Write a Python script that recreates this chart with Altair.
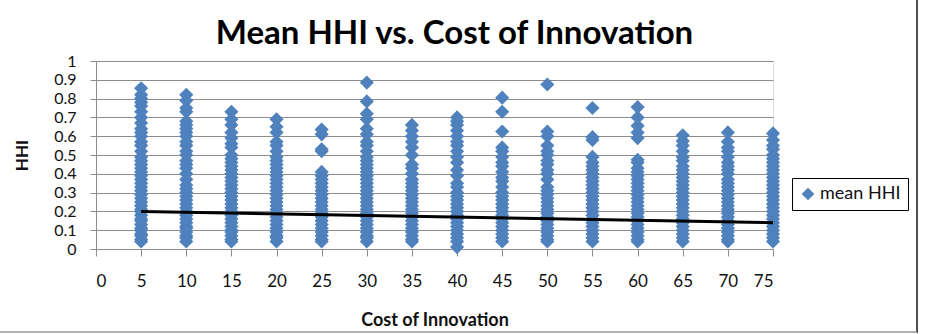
import altair as alt
import pandas as pd

# Cost of innovation levels (x) and the mean HHI results observed at each level
cost_levels = [5, 10, 15, 20, 25, 30, 35, 40, 45, 50, 55, 60, 65, 70, 75]

hhi_5 = [0.04, 0.05, 0.07, 0.08, 0.10, 0.11, 0.13, 0.15, 0.16, 0.18, 0.20, 0.21, 0.23, 0.25,
         0.27, 0.29, 0.31, 0.33, 0.35, 0.37, 0.39, 0.41, 0.43, 0.45, 0.47, 0.49, 0.52, 0.55,
         0.57, 0.60, 0.62, 0.64, 0.67, 0.70, 0.73, 0.76, 0.78, 0.80, 0.82, 0.855]
hhi_10 = [0.04, 0.06, 0.07, 0.09, 0.11, 0.12, 0.14, 0.16, 0.18, 0.20, 0.22, 0.24, 0.26, 0.28,
          0.30, 0.32, 0.34, 0.37, 0.40, 0.43, 0.45, 0.47, 0.50, 0.52, 0.55, 0.57, 0.60, 0.62,
          0.64, 0.66, 0.68, 0.73, 0.75, 0.79, 0.82]
hhi_15 = [0.04, 0.05, 0.07, 0.09, 0.10, 0.12, 0.14, 0.16, 0.18, 0.20, 0.22, 0.24, 0.26, 0.28,
          0.30, 0.32, 0.34, 0.36, 0.38, 0.40, 0.42, 0.44, 0.46, 0.48, 0.50, 0.54, 0.56, 0.59,
          0.62, 0.66, 0.69, 0.73]
hhi_20 = [0.04, 0.06, 0.07, 0.09, 0.11, 0.13, 0.15, 0.17, 0.19, 0.21, 0.23, 0.25, 0.27, 0.29,
          0.31, 0.33, 0.35, 0.37, 0.39, 0.41, 0.43, 0.45, 0.47, 0.49, 0.52, 0.55, 0.57, 0.62,
          0.65, 0.69]
hhi_25 = [0.04, 0.05, 0.07, 0.09, 0.11, 0.13, 0.15, 0.17, 0.19, 0.21, 0.23, 0.25, 0.27, 0.29,
          0.31, 0.33, 0.35, 0.37, 0.39, 0.41, 0.52, 0.53, 0.61, 0.635]
hhi_30 = [0.04, 0.06, 0.07, 0.09, 0.11, 0.13, 0.15, 0.17, 0.19, 0.21, 0.23, 0.25, 0.27, 0.29,
          0.31, 0.33, 0.35, 0.37, 0.39, 0.41, 0.43, 0.45, 0.47, 0.49, 0.52, 0.55, 0.57, 0.61,
          0.64, 0.69, 0.72, 0.785, 0.885]
hhi_35 = [0.04, 0.05, 0.07, 0.09, 0.11, 0.13, 0.15, 0.17, 0.19, 0.21, 0.23, 0.25, 0.27, 0.29,
          0.31, 0.33, 0.35, 0.37, 0.40, 0.43, 0.45, 0.50, 0.54, 0.57, 0.60, 0.63, 0.66]
hhi_40 = [0.01, 0.04, 0.06, 0.08, 0.10, 0.12, 0.14, 0.16, 0.18, 0.20, 0.22, 0.24, 0.26, 0.28,
          0.30, 0.33, 0.35, 0.39, 0.42, 0.46, 0.49, 0.52, 0.55, 0.57, 0.60, 0.63, 0.66, 0.68,
          0.70]
hhi_45 = [0.04, 0.06, 0.08, 0.10, 0.12, 0.14, 0.16, 0.18, 0.20, 0.22, 0.24, 0.26, 0.28, 0.30,
          0.33, 0.36, 0.38, 0.41, 0.44, 0.46, 0.49, 0.52, 0.54, 0.625, 0.73, 0.805]
hhi_50 = [0.04, 0.05, 0.07, 0.09, 0.11, 0.13, 0.15, 0.17, 0.19, 0.21, 0.23, 0.25, 0.27, 0.29,
          0.31, 0.33, 0.37, 0.40, 0.42, 0.45, 0.47, 0.50, 0.52, 0.55, 0.60, 0.625, 0.875]
hhi_55 = [0.04, 0.06, 0.08, 0.10, 0.12, 0.14, 0.16, 0.18, 0.20, 0.22, 0.24, 0.26, 0.28, 0.30,
          0.32, 0.34, 0.36, 0.38, 0.40, 0.42, 0.44, 0.46, 0.49, 0.58, 0.595, 0.75]
hhi_60 = [0.04, 0.05, 0.07, 0.09, 0.11, 0.13, 0.15, 0.17, 0.19, 0.21, 0.23, 0.25, 0.27, 0.29,
          0.31, 0.33, 0.35, 0.37, 0.39, 0.41, 0.43, 0.46, 0.475, 0.59, 0.62, 0.655, 0.70, 0.755]
hhi_65 = [0.04, 0.06, 0.08, 0.10, 0.12, 0.14, 0.16, 0.18, 0.20, 0.22, 0.24, 0.26, 0.28, 0.30,
          0.32, 0.34, 0.36, 0.38, 0.40, 0.42, 0.44, 0.47, 0.49, 0.52, 0.55, 0.575, 0.605]
hhi_70 = [0.04, 0.05, 0.07, 0.09, 0.11, 0.13, 0.15, 0.17, 0.19, 0.21, 0.23, 0.25, 0.27, 0.29,
          0.31, 0.33, 0.35, 0.37, 0.40, 0.42, 0.44, 0.46, 0.49, 0.52, 0.54, 0.57, 0.62]
hhi_75 = [0.04, 0.06, 0.08, 0.10, 0.12, 0.14, 0.16, 0.18, 0.20, 0.22, 0.24, 0.26, 0.28, 0.30,
          0.32, 0.34, 0.36, 0.38, 0.40, 0.42, 0.44, 0.46, 0.48, 0.50, 0.53, 0.55, 0.58, 0.615]

hhi_by_cost = [hhi_5, hhi_10, hhi_15, hhi_20, hhi_25, hhi_30, hhi_35, hhi_40,
               hhi_45, hhi_50, hhi_55, hhi_60, hhi_65, hhi_70, hhi_75]

# Linear trend line end points
trend_x = [5, 75]
trend_y = [0.2, 0.14]

x_ticks = [0, 5, 10, 15, 20, 25, 30, 35, 40, 45, 50, 55, 60, 65, 70, 75]
y_ticks = [0, 0.1, 0.2, 0.3, 0.4, 0.5, 0.6, 0.7, 0.8, 0.9, 1]

rows = []
for cost, values in zip(cost_levels, hhi_by_cost):
    for v in values:
        rows.append({"cost": cost, "hhi": v, "series": "mean HHI"})
points_df = pd.DataFrame(rows)
trend_df = pd.DataFrame({"cost": trend_x, "hhi": trend_y})

FONT = "Lato"
BLUE = "#4F81BD"
GRID = "#8C8C8C"
INK = "#111111"

x_scale = alt.Scale(domain=[0, 75], nice=False, zero=True)
y_scale = alt.Scale(domain=[0, 1], nice=False)

x_axis = alt.Axis(
    title="Cost of Innovation", values=x_ticks, grid=False, labelOverlap=False,
    domainColor=GRID, tickColor=GRID, tickSize=7, labelPadding=17,
    labelFont=FONT, labelFontSize=17, labelColor=INK,
    titleFont=FONT, titleFontSize=18, titleFontWeight="bold", titleColor=INK,
    titlePadding=22,
)
y_axis = alt.Axis(
    title="HHI", values=y_ticks, format="~g", labelOverlap=False,
    grid=True, gridColor=GRID, gridWidth=1,
    domainColor=GRID, tickColor=GRID, tickSize=6, labelPadding=14,
    labelFont=FONT, labelFontSize=16, labelColor=INK,
    titleFont=FONT, titleFontSize=17, titleFontWeight="bold", titleColor=INK,
    titlePadding=22,
)

points = alt.Chart(points_df).mark_point(
    shape="diamond", filled=True, size=200, opacity=1
).encode(
    x=alt.X("cost:Q", scale=x_scale, axis=x_axis),
    y=alt.Y("hhi:Q", scale=y_scale, axis=y_axis),
    color=alt.Color(
        "series:N", scale=alt.Scale(range=[BLUE]),
        legend=alt.Legend(
            title=None, orient="none", legendX=696, legendY=117,
            symbolType="diamond", symbolSize=160, symbolOpacity=1,
            labelFont=FONT, labelFontSize=18, labelColor=INK,
            strokeColor="#000000", padding=7, labelOffset=3,
        ),
    ),
)

trend = alt.Chart(trend_df).mark_line(color="black", strokeWidth=3).encode(
    x=alt.X("cost:Q", scale=x_scale, axis=x_axis),
    y=alt.Y("hhi:Q", scale=y_scale, axis=y_axis),
)

# Outer frame edges of the chart area (right and bottom)
frame_right = alt.Chart(trend_df).mark_rule(color="#444444", strokeWidth=1.5).encode(
    x=alt.value(821), y=alt.value(-61), y2=alt.value(272)
)
frame_bottom = alt.Chart(trend_df).mark_rule(color="#999999", strokeWidth=1).encode(
    x=alt.value(-96), x2=alt.value(821), y=alt.value(271)
)

chart = alt.layer(points, trend, frame_right, frame_bottom).properties(
    width=677, height=188,
    autosize=alt.AutoSizeParams(type="none"),
    padding={"left": 96, "top": 61, "right": 153, "bottom": 85},
    title=alt.TitleParams(
        "Mean HHI vs. Cost of Innovation", font=FONT, fontSize=33, fontWeight="bold",
        color="#000000", anchor="middle", dx=20, offset=0, dy=52,
    ),
).configure_view(stroke=None).configure(background="white")

chart.save("out.html", embed_options={"renderer": "svg", "actions": False})
